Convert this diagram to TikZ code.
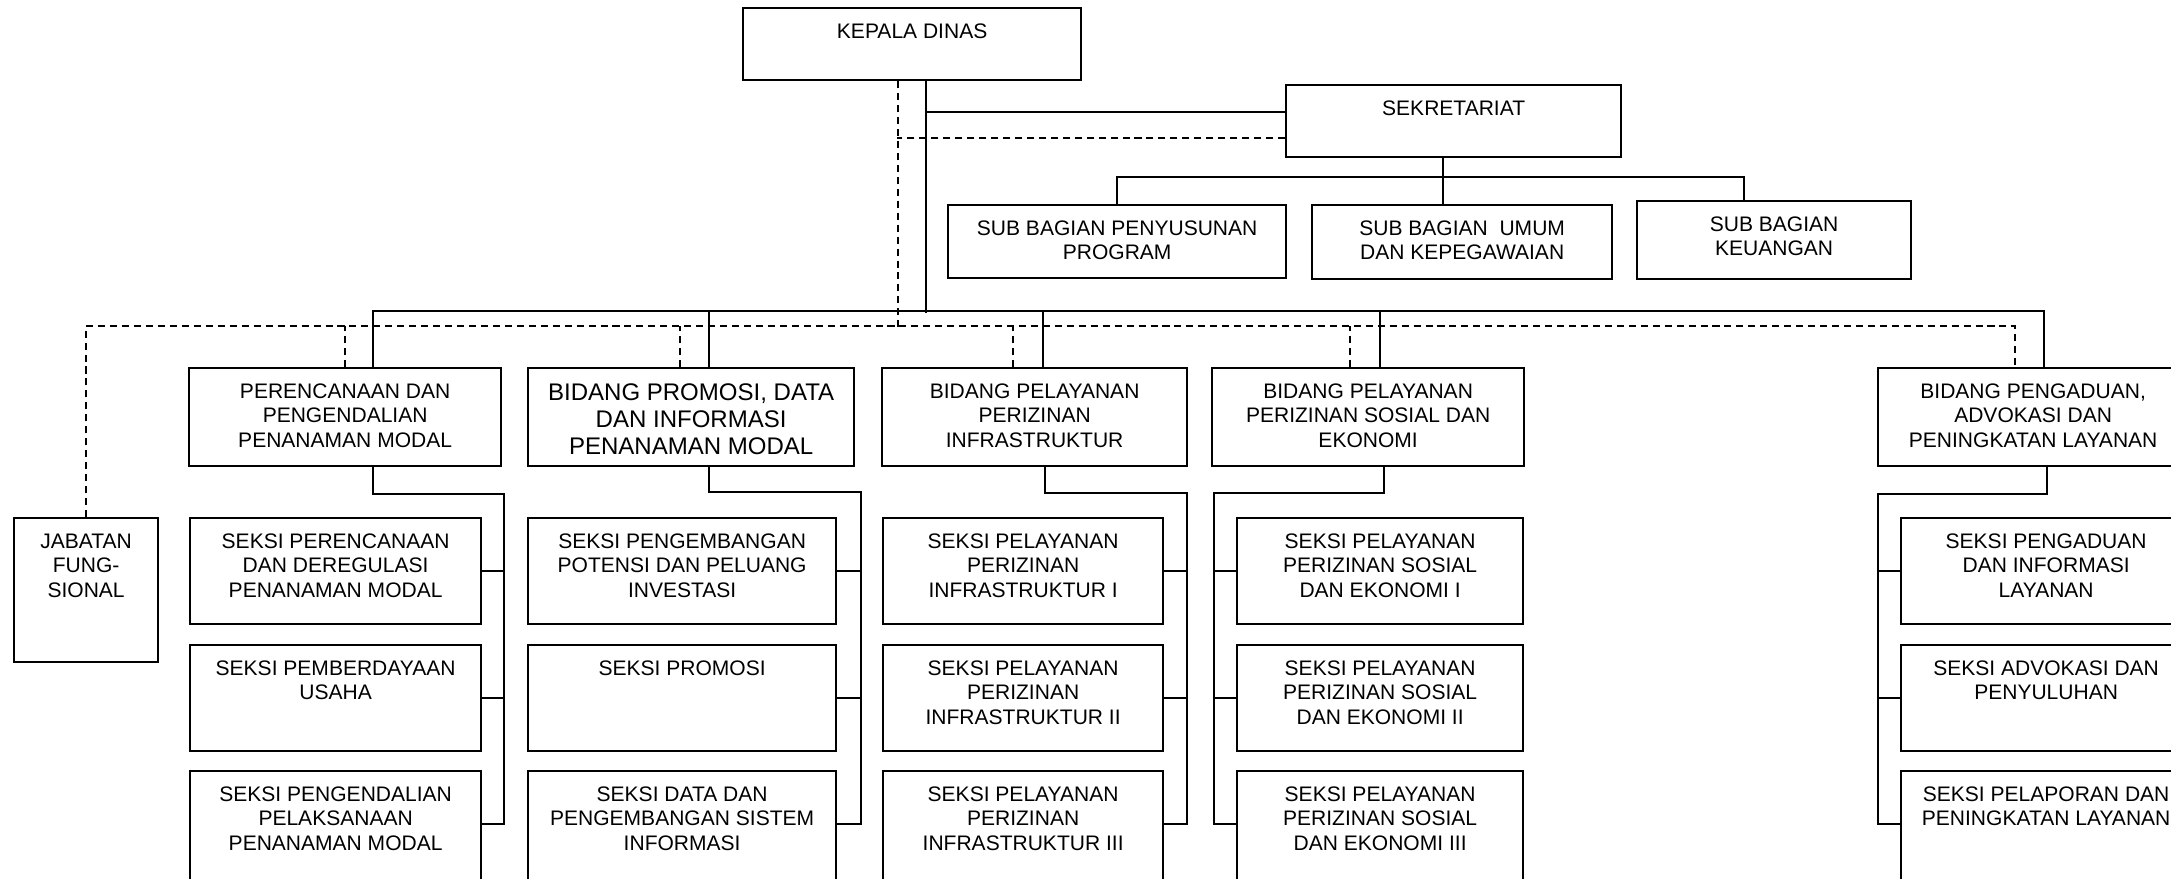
\documentclass[tikz,border=0pt]{standalone}
\usepackage{fontspec}
\setmainfont{Liberation Sans}
\begin{document}
\begin{tikzpicture}[x=0.01cm,y=-0.01cm,
    kotak/.style={draw,line width=0.6pt,inner sep=0pt,anchor=north west},
    tulisan/.style={font=\fontsize{5.98}{6.97}\selectfont,align=center,anchor=north,inner sep=0pt},
    tulisanbesar/.style={font=\fontsize{6.83}{7.7}\selectfont,align=center,anchor=north,inner sep=0pt},
    garis/.style={line width=0.5pt},
    putus/.style={line width=0.5pt,dash pattern=on 2pt off 1.4pt}]

\def\TURUN{0.16cm}
\def\TINGGIBIDANG{0.98cm}
\def\TINGGISEKSI{1.06cm}
\def\TINGGIAKHIR{1.12cm}
\def\CABANG{0.54cm}
	\useasboundingbox (0,0) rectangle (2171,878);

	\node[kotak,minimum width=3.38cm,minimum height=0.72cm] (kd) at (742,7) {};
	\node[kotak,minimum width=3.35cm,minimum height=0.72cm] (sek) at (1285,84) {};
	\node[kotak,minimum width=3.38cm,minimum height=0.73cm] (sb1) at (947,204) {};
	\node[kotak,minimum width=3.00cm,minimum height=0.74cm] (sb2) at (1311,204) {};
	\node[kotak,minimum width=2.74cm,minimum height=0.78cm] (sb3) at (1636,200) {};
	\node[kotak,minimum width=3.12cm,minimum height=\TINGGIBIDANG] (bd1) at (188,367) {};
	\node[kotak,minimum width=3.26cm,minimum height=\TINGGIBIDANG] (bd2) at (527,367) {};
	\node[kotak,minimum width=3.05cm,minimum height=\TINGGIBIDANG] (bd3) at (881,367) {};
	\node[kotak,minimum width=3.12cm,minimum height=\TINGGIBIDANG] (bd4) at (1211,367) {};
	\node[kotak,minimum width=3.10cm,minimum height=\TINGGIBIDANG] (bd5) at (1877,367) {};
	\node[kotak,minimum width=1.44cm,minimum height=1.44cm] (jf) at (13,517) {};
	\node[kotak,minimum width=2.91cm,minimum height=\TINGGISEKSI] (s11) at (189,517) {};
	\node[kotak,minimum width=2.91cm,minimum height=\TINGGISEKSI] (s12) at (189,644) {};
	\node[kotak,minimum width=2.91cm,minimum height=\TINGGIAKHIR] (s13) at (189,770) {};
	\node[kotak,minimum width=3.08cm,minimum height=\TINGGISEKSI] (s21) at (527,517) {};
	\node[kotak,minimum width=3.08cm,minimum height=\TINGGISEKSI] (s22) at (527,644) {};
	\node[kotak,minimum width=3.08cm,minimum height=\TINGGIAKHIR] (s23) at (527,770) {};
	\node[kotak,minimum width=2.80cm,minimum height=\TINGGISEKSI] (s31) at (882,517) {};
	\node[kotak,minimum width=2.80cm,minimum height=\TINGGISEKSI] (s32) at (882,644) {};
	\node[kotak,minimum width=2.80cm,minimum height=\TINGGIAKHIR] (s33) at (882,770) {};
	\node[kotak,minimum width=2.86cm,minimum height=\TINGGISEKSI] (s41) at (1236,517) {};
	\node[kotak,minimum width=2.86cm,minimum height=\TINGGISEKSI] (s42) at (1236,644) {};
	\node[kotak,minimum width=2.86cm,minimum height=\TINGGIAKHIR] (s43) at (1236,770) {};
	\node[kotak,minimum width=2.90cm,minimum height=\TINGGISEKSI] (s51) at (1900,517) {};
	\node[kotak,minimum width=2.90cm,minimum height=\TINGGISEKSI] (s52) at (1900,644) {};
	\node[kotak,minimum width=2.90cm,minimum height=\TINGGIAKHIR] (s53) at (1900,770) {};

	\node[tulisan] (kd-t) at ([yshift=-\TURUN]kd.north) {KEPALA DINAS};
	\node[tulisan] (sek-t) at ([yshift=-\TURUN]sek.north) {SEKRETARIAT};
	\node[tulisan] (sb1-t) at ([yshift=-\TURUN]sb1.north) {SUB BAGIAN PENYUSUNAN\\PROGRAM};
	\node[tulisan] (sb2-t) at ([yshift=-\TURUN]sb2.north) {SUB BAGIAN\ \ UMUM\\DAN KEPEGAWAIAN};
	\node[tulisan] (sb3-t) at ([yshift=-\TURUN]sb3.north) {SUB BAGIAN\\KEUANGAN};
	\node[tulisan] (bd1-t) at ([yshift=-\TURUN]bd1.north) {PERENCANAAN DAN\\PENGENDALIAN\\PENANAMAN MODAL};
	\node[tulisanbesar] (bd2-t) at ([yshift=-\TURUN]bd2.north) {BIDANG PROMOSI, DATA\\DAN INFORMASI\\PENANAMAN MODAL};
	\node[tulisan] (bd3-t) at ([yshift=-\TURUN]bd3.north) {BIDANG PELAYANAN\\PERIZINAN\\INFRASTRUKTUR};
	\node[tulisan] (bd4-t) at ([yshift=-\TURUN]bd4.north) {BIDANG PELAYANAN\\PERIZINAN SOSIAL DAN\\EKONOMI};
	\node[tulisan] (bd5-t) at ([yshift=-\TURUN]bd5.north) {BIDANG PENGADUAN,\\ADVOKASI DAN\\PENINGKATAN LAYANAN};
	\node[tulisan] (jf-t) at ([yshift=-\TURUN]jf.north) {JABATAN\\FUNG-\\SIONAL};
	\node[tulisan] (s11-t) at ([yshift=-\TURUN]s11.north) {SEKSI PERENCANAAN\\DAN DEREGULASI\\PENANAMAN MODAL};
	\node[tulisan] (s12-t) at ([yshift=-\TURUN]s12.north) {SEKSI PEMBERDAYAAN\\USAHA};
	\node[tulisan] (s13-t) at ([yshift=-\TURUN]s13.north) {SEKSI PENGENDALIAN\\PELAKSANAAN\\PENANAMAN MODAL};
	\node[tulisan] (s21-t) at ([yshift=-\TURUN]s21.north) {SEKSI PENGEMBANGAN\\POTENSI DAN PELUANG\\INVESTASI};
	\node[tulisan] (s22-t) at ([yshift=-\TURUN]s22.north) {SEKSI PROMOSI};
	\node[tulisan] (s23-t) at ([yshift=-\TURUN]s23.north) {SEKSI DATA DAN\\PENGEMBANGAN SISTEM\\INFORMASI};
	\node[tulisan] (s31-t) at ([yshift=-\TURUN]s31.north) {SEKSI PELAYANAN\\PERIZINAN\\INFRASTRUKTUR I};
	\node[tulisan] (s32-t) at ([yshift=-\TURUN]s32.north) {SEKSI PELAYANAN\\PERIZINAN\\INFRASTRUKTUR II};
	\node[tulisan] (s33-t) at ([yshift=-\TURUN]s33.north) {SEKSI PELAYANAN\\PERIZINAN\\INFRASTRUKTUR III};
	\node[tulisan] (s41-t) at ([yshift=-\TURUN]s41.north) {SEKSI PELAYANAN\\PERIZINAN SOSIAL\\DAN EKONOMI I};
	\node[tulisan] (s42-t) at ([yshift=-\TURUN]s42.north) {SEKSI PELAYANAN\\PERIZINAN SOSIAL\\DAN EKONOMI II};
	\node[tulisan] (s43-t) at ([yshift=-\TURUN]s43.north) {SEKSI PELAYANAN\\PERIZINAN SOSIAL\\DAN EKONOMI III};
	\node[tulisan] (s51-t) at ([yshift=-\TURUN]s51.north) {SEKSI PENGADUAN\\DAN INFORMASI\\LAYANAN};
	\node[tulisan] (s52-t) at ([yshift=-\TURUN]s52.north) {SEKSI ADVOKASI DAN\\PENYULUHAN};
	\node[tulisan] (s53-t) at ([yshift=-\TURUN]s53.north) {SEKSI PELAPORAN DAN\\PENINGKATAN LAYANAN};

	\draw[garis] ([xshift=0.14cm]kd.south) -- ++(0,232);
	\draw[putus] ([xshift=-0.14cm]kd.south) -- ++(0,247);
	\draw[garis] ([yshift=0.09cm]sek.west) -- ++(-360,0);
	\draw[putus] ([yshift=-0.17cm]sek.west) -- ++(-388,0);
	\draw[garis] ([xshift=-0.11cm]sek.south) -- ++(0,48);
	\draw[garis] (sb1.north) -- ++(0,-27) -| ([xshift=-0.3cm]sb3.north);

	\draw[garis] ([xshift=0.28cm]bd1.north) -- ++(0,-56) -| ([xshift=1.67cm]bd5.north west);
	\draw[garis] ([xshift=0.18cm]bd2.north) -- ++(0,-56);
	\draw[garis] ([xshift=0.08cm]bd3.north) -- ++(0,-56);
	\draw[garis] ([xshift=0.12cm]bd4.north) -- ++(0,-56);
	\draw[putus] (jf.north) -- ++(0,-191) -| ([xshift=1.38cm]bd5.north west);
	\draw[putus] (bd1.north) -- ++(0,-41);
	\draw[putus] ([xshift=-0.11cm]bd2.north) -- ++(0,-41);
	\draw[putus] ([xshift=-0.215cm]bd3.north) -- ++(0,-41);
	\draw[putus] ([xshift=-0.18cm]bd4.north) -- ++(0,-41);

	\draw[garis] ([xshift=0.28cm]bd1.south) -- ++(0,27) -- ++(131,0) |- ([yshift=-\CABANG]s13.north east);
	\draw[garis] ([yshift=-\CABANG]s11.north east) -- ++(23,0);
	\draw[garis] ([yshift=-\CABANG]s12.north east) -- ++(23,0);
	\draw[garis] ([xshift=0.18cm]bd2.south) -- ++(0,25) -- ++(152,0) |- ([yshift=-\CABANG]s23.north east);
	\draw[garis] ([yshift=-\CABANG]s21.north east) -- ++(25,0);
	\draw[garis] ([yshift=-\CABANG]s22.north east) -- ++(25,0);
	\draw[garis] ([xshift=0.105cm]bd3.south) -- ++(0,26) -- ++(142,0) |- ([yshift=-\CABANG]s33.north east);
	\draw[garis] ([yshift=-\CABANG]s31.north east) -- ++(24,0);
	\draw[garis] ([yshift=-\CABANG]s32.north east) -- ++(24,0);
	\draw[garis] ([xshift=0.16cm]bd4.south) -- ++(0,26) -- ++(-170,0) |- ([yshift=-\CABANG]s43.north west);
	\draw[garis] ([yshift=-\CABANG]s41.north west) -- ++(-23,0);
	\draw[garis] ([yshift=-\CABANG]s42.north west) -- ++(-23,0);
	\draw[garis] ([xshift=1.70cm]bd5.south west) -- ++(0,27) -- ++(-169,0) |- ([yshift=-\CABANG]s53.north west);
	\draw[garis] ([yshift=-\CABANG]s51.north west) -- ++(-22,0);
	\draw[garis] ([yshift=-\CABANG]s52.north west) -- ++(-22,0);

\end{tikzpicture}
\end{document}
